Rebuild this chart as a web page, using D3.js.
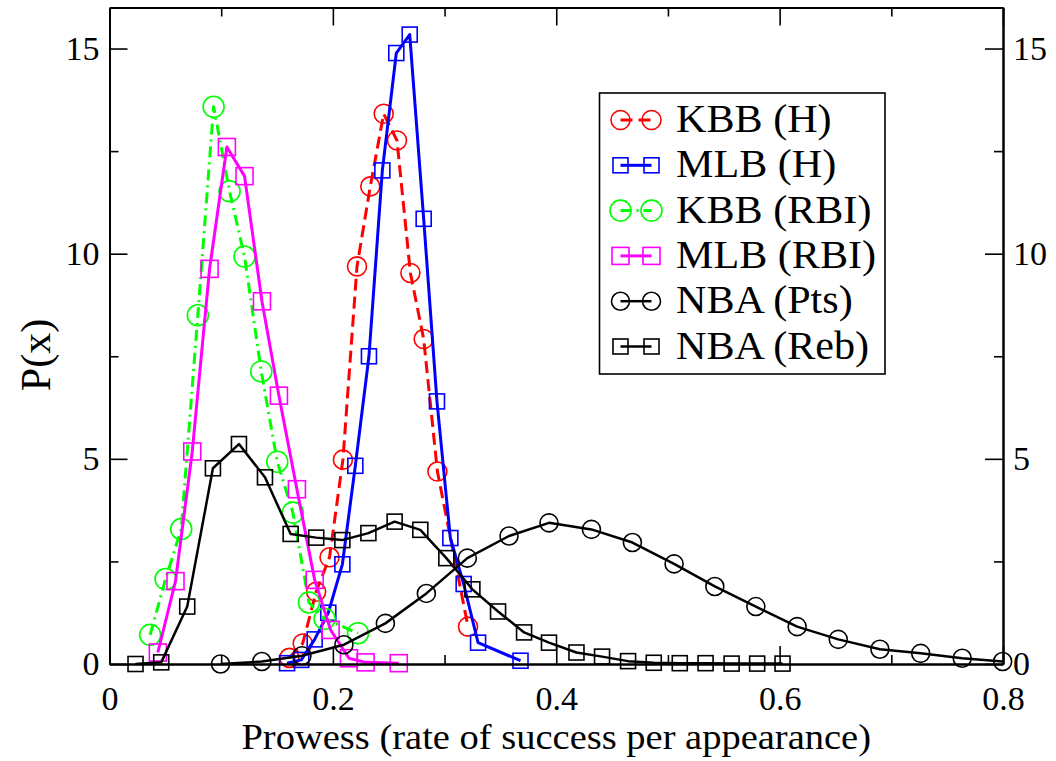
<!DOCTYPE html>
<html>
<head>
<meta charset="utf-8">
<script src="https://cdn.jsdelivr.net/npm/d3@7"></script>
<style>
  html, body { margin: 0; padding: 0; background: #fff; }
  svg { display: block; }
  text { font-family: "Liberation Serif", "Times New Roman", serif; fill: #000; }
</style>
</head>
<body>
<svg id="chart" width="1056" height="761"></svg>
<script>
// Prowess distributions: x = rate of success per appearance, y = P(x)
const kbbHx   = [0.161, 0.173, 0.185, 0.197, 0.209, 0.2216, 0.2335, 0.2455, 0.2574, 0.2694, 0.2813, 0.2936, 0.321];
const kbbHy   = [0.15, 0.50, 1.76, 2.60, 4.98, 9.69, 11.64, 13.41, 12.76, 9.53, 7.92, 4.69, 0.91];

const mlbHx   = [0.159, 0.1717, 0.1837, 0.1959, 0.2085, 0.2201, 0.2323, 0.2443, 0.2568, 0.2688, 0.2813, 0.2932, 0.3052, 0.3171, 0.330, 0.368];
const mlbHy   = [0.02, 0.10, 0.60, 1.25, 2.43, 4.83, 7.50, 12.03, 14.89, 15.34, 10.85, 6.40, 3.07, 1.95, 0.52, 0.08];

const kbbRbiX = [0.0364, 0.0502, 0.0642, 0.0791, 0.0932, 0.1075, 0.1209, 0.1359, 0.1502, 0.1642, 0.1786, 0.1926, 0.2225];
const kbbRbiY = [0.71, 2.07, 3.29, 8.50, 13.58, 11.52, 9.93, 7.13, 4.93, 3.69, 1.50, 1.10, 0.75];

const mlbRbiX = [0.0433, 0.0591, 0.0741, 0.0896, 0.1051, 0.1209, 0.1365, 0.1517, 0.1678, 0.1837, 0.198, 0.2144, 0.2293, 0.259];
const mlbRbiY = [0.28, 2.02, 5.18, 9.63, 12.60, 11.89, 8.84, 6.54, 4.26, 2.05, 0.83, 0.14, 0.04, 0.02];

const nbaPtsX = [0.0994, 0.1364, 0.1723, 0.2099, 0.247, 0.2837, 0.3204, 0.3577, 0.3935, 0.4315, 0.4682, 0.5055, 0.542, 0.5787, 0.6157, 0.6525, 0.6898, 0.7263, 0.7635, 0.7997];
const nbaPtsY = [0.0, 0.06, 0.20, 0.47, 0.99, 1.72, 2.58, 3.12, 3.44, 3.28, 2.96, 2.44, 1.89, 1.40, 0.91, 0.60, 0.36, 0.26, 0.14, 0.06];

const nbaRebX = [0.0233, 0.0463, 0.0696, 0.0926, 0.1159, 0.1392, 0.1622, 0.1851, 0.2085, 0.2318, 0.2553, 0.2783, 0.3016, 0.3249, 0.3479, 0.3712, 0.3935, 0.4181, 0.441, 0.4643, 0.4873, 0.5106, 0.5337, 0.557, 0.5799, 0.6026];
const nbaRebY = [0.0, 0.04, 1.40, 4.77, 5.36, 4.55, 3.17, 3.08, 3.02, 3.19, 3.47, 3.27, 2.58, 1.82, 1.28, 0.77, 0.52, 0.28, 0.18, 0.07, 0.03, 0.02, 0.02, 0.01, 0.01, 0.01];

const seriesNames = ["KBB (H)", "MLB (H)", "KBB (RBI)", "MLB (RBI)", "NBA (Pts)", "NBA (Reb)"];

const xMajorTicks = [0, 0.2, 0.4, 0.6, 0.8];
const xTickLabels = ["0", "0.2", "0.4", "0.6", "0.8"];
const xMinorTicks = [0.1, 0.3, 0.5, 0.7];
const yMajorTicks = [0, 5, 10, 15];
const yTickLabels = ["0", "5", "10", "15"];
const yMinorTicks = [2.5, 7.5, 12.5];

// Drawing styles per series
const styles = [
  { color: "#ff0000", dash: "12,6",      symbol: "circle", size: 9.5,  width: 3 },
  { color: "#0000ff", dash: null,        symbol: "square", size: 15,   width: 3 },
  { color: "#00ff00", dash: "11,5,2,5",  symbol: "circle", size: 10.5, width: 3 },
  { color: "#ff00ff", dash: null,        symbol: "square", size: 17,   width: 3 },
  { color: "#000000", dash: null,        symbol: "circle", size: 9,    width: 2.5 },
  { color: "#000000", dash: null,        symbol: "square", size: 15,   width: 2.5 }
];

const xs = [kbbHx, mlbHx, kbbRbiX, mlbRbiX, nbaPtsX, nbaRebX];
const ys = [kbbHy, mlbHy, kbbRbiY, mlbRbiY, nbaPtsY, nbaRebY];
const series = seriesNames.map((name, i) => ({
  name,
  style: styles[i],
  points: xs[i].map((xv, j) => ({ x: xv, y: ys[i][j] }))
}));

const plotLeft = 109.5, plotRight = 1003, plotTop = 7.5, plotBottom = 664;
const x = d3.scaleLinear().domain([0, 0.8]).range([plotLeft, plotRight]);
const y = d3.scaleLinear().domain([0, 16]).range([plotBottom, plotTop]);

const svg = d3.select("#chart");

// Widen a text element's glyphs horizontally by a given factor
function widen(sel, factor) {
  sel.each(function () {
    const w = this.getComputedTextLength();
    d3.select(this).attr("textLength", w * factor).attr("lengthAdjust", "spacingAndGlyphs");
  });
}

// Series lines and hollow symbols
const line = d3.line().x(d => x(d.x)).y(d => y(d.y));

function drawSymbol(g, cx, cy, st) {
  if (st.symbol === "circle") {
    g.append("circle").attr("cx", cx).attr("cy", cy).attr("r", st.size)
      .attr("fill", "none").attr("stroke", st.color).attr("stroke-width", 1.6);
  } else {
    g.append("rect").attr("x", cx - st.size / 2).attr("y", cy - st.size / 2)
      .attr("width", st.size).attr("height", st.size)
      .attr("fill", "none").attr("stroke", st.color).attr("stroke-width", 1.6);
  }
}

const plot = svg.append("g");
series.forEach(s => {
  const g = plot.append("g");
  g.append("path").datum(s.points).attr("d", line)
    .attr("fill", "none").attr("stroke", s.style.color)
    .attr("stroke-width", s.style.width)
    .attr("stroke-linejoin", "round")
    .attr("stroke-dasharray", s.style.dash);
  s.points.forEach(p => drawSymbol(g, x(p.x), y(p.y), s.style));
});

// Axes with inward ticks on all four sides
const fontSize = 34;
function styleAxis(g) {
  g.selectAll("path.domain").attr("stroke", "#000").attr("stroke-width", 2);
  g.selectAll(".tick line").attr("stroke", "#000").attr("stroke-width", 1.6);
  g.selectAll("text").style("font-family", "'Liberation Serif', serif")
    .style("font-size", fontSize + "px").attr("fill", "#000");
}

svg.append("g").attr("transform", `translate(0,${plotBottom})`)
  .call(d3.axisBottom(x).tickValues(xMajorTicks).tickSize(-18).tickSizeOuter(0)
    .tickPadding(22).tickFormat((d, i) => xTickLabels[i]))
  .call(styleAxis);
svg.append("g").attr("transform", `translate(0,${plotBottom})`)
  .call(d3.axisBottom(x).tickValues(xMinorTicks).tickSize(-9).tickSizeOuter(0).tickFormat(""))
  .call(styleAxis);

svg.append("g").attr("transform", `translate(0,${plotTop})`)
  .call(d3.axisTop(x).tickValues(xMajorTicks).tickSize(-18).tickSizeOuter(0).tickFormat(""))
  .call(styleAxis);
svg.append("g").attr("transform", `translate(0,${plotTop})`)
  .call(d3.axisTop(x).tickValues(xMinorTicks).tickSize(-9).tickSizeOuter(0).tickFormat(""))
  .call(styleAxis);

svg.append("g").attr("transform", `translate(${plotLeft},0)`)
  .call(d3.axisLeft(y).tickValues(yMajorTicks).tickSize(-18).tickSizeOuter(0)
    .tickPadding(10).tickFormat((d, i) => yTickLabels[i]))
  .call(styleAxis);
svg.append("g").attr("transform", `translate(${plotLeft},0)`)
  .call(d3.axisLeft(y).tickValues(yMinorTicks).tickSize(-9).tickSizeOuter(0).tickFormat(""))
  .call(styleAxis);

svg.append("g").attr("transform", `translate(${plotRight},0)`)
  .call(d3.axisRight(y).tickValues(yMajorTicks).tickSize(-18).tickSizeOuter(0)
    .tickPadding(10).tickFormat((d, i) => yTickLabels[i]))
  .call(styleAxis);
svg.append("g").attr("transform", `translate(${plotRight},0)`)
  .call(d3.axisRight(y).tickValues(yMinorTicks).tickSize(-9).tickSizeOuter(0).tickFormat(""))
  .call(styleAxis);

// Axis titles
svg.append("text")
  .attr("x", (plotLeft + plotRight) / 2).attr("y", 749)
  .attr("text-anchor", "middle")
  .style("font-size", "35px")
  .text("Prowess (rate of success per appearance)")
  .call(widen, 1.1);

svg.append("text")
  .attr("transform", "translate(50,355) rotate(-90)")
  .attr("text-anchor", "middle")
  .style("font-size", "42px")
  .text("P(x)");

// Legend
const legend = svg.append("g");
legend.append("rect")
  .attr("x", 599.5).attr("y", 93).attr("width", 285.5).attr("height", 281)
  .attr("fill", "#fff").attr("stroke", "#000").attr("stroke-width", 1.6);

series.forEach((s, i) => {
  const cy = 120 + i * 45.3;
  const g = legend.append("g");
  g.append("line").attr("x1", 620.5).attr("x2", 651.5).attr("y1", cy).attr("y2", cy)
    .attr("stroke", s.style.color).attr("stroke-width", s.style.width)
    .attr("stroke-dasharray", s.style.dash);
  drawSymbol(g, 620.5, cy, s.style);
  drawSymbol(g, 651.5, cy, s.style);
  g.append("text").attr("x", 676).attr("y", cy + 12)
    .style("font-size", "39px")
    .text(s.name)
    .call(widen, 1.08);
});
</script>
</body>
</html>
